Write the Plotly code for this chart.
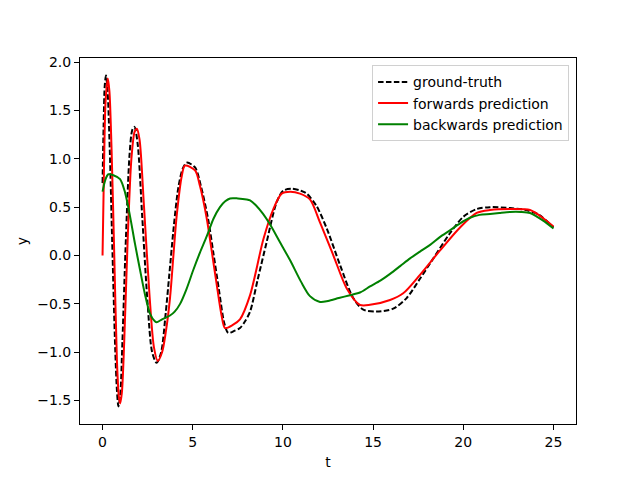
import plotly.graph_objects as go

# ground truth
t_gt = [0, 0.06, 0.12, 0.19, 0.28, 0.4, 0.535, 0.7, 0.8, 0.88, 0.98, 1.1, 1.3, 1.5, 1.65, 1.77,
        1.95, 2.2, 2.5, 2.75, 3.0, 3.25, 3.5, 3.7, 3.95, 4.2, 4.45, 4.67, 5.13, 5.45, 5.85, 6.15,
        6.45, 6.75, 6.97, 7.3, 7.62, 7.9, 8.18, 8.6, 9.1, 9.65, 10.02, 10.5, 11.0, 11.32, 11.87,
        12.43, 13.17, 13.9, 14.46, 15.2, 16.12, 16.86, 17.6, 18.34, 19.26, 20.0, 20.74, 21.48,
        22.59, 23.5, 24.2, 25.0]
y_gt = [0.75, 1.35, 1.75, 1.86, 1.7, 1.1, 0.15, -0.95, -1.4, -1.56, -1.45, -0.9, 0.2, 1.05, 1.3, 1.33,
        1.15, 0.4, -0.5, -1.0, -1.11, -1.0, -0.6, -0.2, 0.3, 0.7, 0.9, 0.96, 0.91, 0.72, 0.38, 0.02,
        -0.35, -0.70, -0.80, -0.78, -0.75, -0.68, -0.58, -0.25, 0.14, 0.55, 0.67, 0.69, 0.67, 0.64, 0.51,
        0.28, -0.1, -0.44, -0.56, -0.58, -0.55, -0.44, -0.24, -0.03, 0.23, 0.40, 0.48, 0.50,
        0.49, 0.47, 0.42, 0.29]

# forwards prediction
t_fw = [0, 0.08, 0.17, 0.29, 0.38, 0.5, 0.65, 0.8, 0.9, 0.97, 1.07, 1.2, 1.4, 1.6, 1.78, 1.9,
        2.05, 2.3, 2.6, 2.85, 3.06, 3.3, 3.5, 3.74, 3.95, 4.11, 4.39, 4.57, 5.13, 5.4, 5.78, 6.05,
        6.33, 6.6, 6.79, 7.2, 7.62, 8.18, 8.92, 9.47, 9.93, 10.4, 10.95, 11.5, 12.06, 12.8, 13.54,
        14.27, 14.83, 15.94, 16.67, 17.6, 18.7, 19.82, 20.74, 21.48, 22.59, 23.7, 24.25, 25.0]
y_fw = [0.0, 0.9, 1.6, 1.83, 1.7, 1.1, 0.0, -1.1, -1.45, -1.53, -1.42, -0.9, 0.2, 1.0, 1.28, 1.31,
        1.2, 0.5, -0.4, -0.95, -1.09, -1.0, -0.8, -0.44, 0.05, 0.41, 0.82, 0.93, 0.88, 0.72, 0.38, 0.05,
        -0.3, -0.62, -0.75, -0.72, -0.66, -0.41, 0.17, 0.48, 0.64, 0.66, 0.64, 0.58, 0.34, 0.0, -0.34,
        -0.51, -0.51, -0.46, -0.39, -0.2, 0.05, 0.29, 0.44, 0.47, 0.48, 0.47, 0.41, 0.30]

# backwards prediction
t_bw = [0, 0.15, 0.32, 0.6, 0.97, 1.25, 1.52, 1.8, 2.08, 2.35, 2.63, 2.9, 3.0, 3.3, 3.74, 4.0,
        4.3, 4.65, 5.03, 5.4, 5.78, 6.15, 6.51, 6.8, 7.07, 7.5, 7.99, 8.18, 8.5, 8.9, 9.29, 9.8,
        10.4, 11.0, 11.5, 12.06, 12.5, 13.1, 13.72, 14.3, 14.83, 15.4, 15.94, 16.5, 17.05, 17.6,
        18.16, 18.7, 19.26, 19.8, 20.37, 20.9, 21.48, 22.0, 22.59, 23.2, 23.7, 24.1, 24.43, 25.0]
y_bw = [0.66, 0.78, 0.84, 0.83, 0.79, 0.65, 0.41, 0.12, -0.15, -0.4, -0.6, -0.68, -0.69, -0.66, -0.62, -0.58,
        -0.5, -0.35, -0.15, 0.03, 0.2, 0.38, 0.50, 0.56, 0.59, 0.59, 0.58, 0.57, 0.52, 0.43, 0.32, 0.15,
        -0.05, -0.27, -0.42, -0.48, -0.47, -0.44, -0.41, -0.38, -0.32, -0.26, -0.19, -0.11, -0.03, 0.04,
        0.11, 0.19, 0.26, 0.33, 0.39, 0.42, 0.43, 0.44, 0.45, 0.45, 0.44, 0.40, 0.36, 0.28]

x_ticks = [0, 5, 10, 15, 20, 25]
y_ticks = [-1.5, -1.0, -0.5, 0.0, 0.5, 1.0, 1.5, 2.0]

fig = go.Figure()
fig.add_trace(go.Scatter(x=t_gt, y=y_gt, mode="lines", name="ground-truth",
                         line=dict(color="black", width=2, dash="5.5px,2.4px", shape="spline", smoothing=0.8)))
fig.add_trace(go.Scatter(x=t_fw, y=y_fw, mode="lines", name="forwards prediction",
                         line=dict(color="#ff0000", width=2, shape="spline", smoothing=0.8)))
fig.add_trace(go.Scatter(x=t_bw, y=y_bw, mode="lines", name="backwards prediction",
                         line=dict(color="#008000", width=2, shape="spline", smoothing=0.8)))

axis_common = dict(showgrid=False, zeroline=False, showline=True, linecolor="black", linewidth=1,
                   mirror=True, ticks="outside", ticklen=5, tickwidth=1, tickcolor="black",
                   tickfont=dict(family="DejaVu Sans", size=14, color="black"),
                   title_font=dict(family="DejaVu Sans", size=14, color="black"))

fig.update_layout(
    width=632, height=472,
    margin=dict(l=72, r=64, t=50, b=53),
    paper_bgcolor="white", plot_bgcolor="white",
    font=dict(family="DejaVu Sans", size=14, color="black"),
    xaxis=dict(range=[-1.25, 26.25], tickvals=x_ticks, title=dict(text="t", standoff=8), **axis_common),
    yaxis=dict(range=[-1.742, 2.042], tickvals=y_ticks, tickformat=".1f",
               title=dict(text="y", standoff=6), **axis_common),
    legend=dict(x=0.986, y=0.98, xanchor="right", yanchor="top", bgcolor="white",
                bordercolor="#d0d0d0", borderwidth=1, font=dict(family="DejaVu Sans", size=14),
                tracegroupgap=0, itemwidth=30),
    showlegend=True,
)

fig.write_html("out.html")
